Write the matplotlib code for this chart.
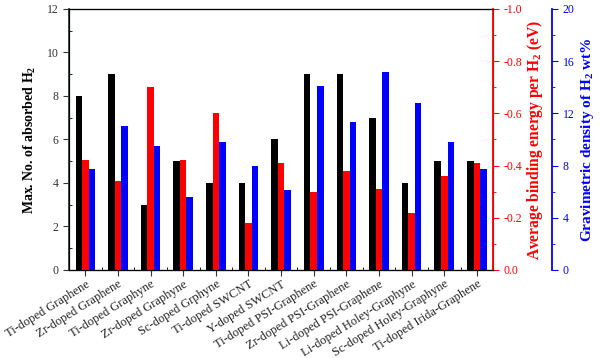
import matplotlib
matplotlib.use("Agg")
import matplotlib.pyplot as plt
import numpy as np
from matplotlib.ticker import MultipleLocator

plt.rcParams["font.family"] = ["Liberation Serif", "DejaVu Serif"]
plt.rcParams["mathtext.fontset"] = "custom"
plt.rcParams["mathtext.rm"] = "Liberation Serif"
plt.rcParams["mathtext.bf"] = "Liberation Serif:bold"

systems = [
    "Ti-doped Graphene", "Zr-doped Graphene", "Ti-doped Graphyne",
    "Zr-doped Graphyne", "Sc-doped Grphyne", "Ti-doped SWCNT",
    "Y-doped SWCNT", "Ti-doped PSI-Graphene", "Zr-doped PSI-Graphene",
    "Li-doped PSI-Graphene", "Li-doped Holey-Graphyne",
    "Sc-doped Holey-Graphyne", "Ti-doped Irida-Graphene",
]
n_h2 = [8, 9, 3, 5, 4, 4, 6, 9, 9, 7, 4, 5, 5]
binding_ev = [-0.42, -0.34, -0.70, -0.42, -0.60, -0.18, -0.41,
              -0.30, -0.38, -0.31, -0.22, -0.36, -0.41]
wt_pct = [7.7, 11.0, 9.5, 5.6, 9.8, 8.0, 6.1,
          14.1, 11.3, 15.2, 12.8, 9.8, 7.7]

x = np.arange(len(systems))
w = 0.2

fig = plt.figure(figsize=(6, 3.58), dpi=100)
ax = fig.add_axes([0.115, 0.246, 0.707, 0.729])
ax2 = ax.twinx()
ax3 = ax.twinx()

ax.bar(x - w, n_h2, w, color="black")
ax2.bar(x, binding_ev, w, color="#ff0000")
ax3.bar(x + w, wt_pct, w, color="#0000ff")

ax.set_xlim(-0.5, len(systems) - 0.5)
ax.set_ylim(0, 12)
ax.yaxis.set_major_locator(MultipleLocator(2))
ax.yaxis.set_minor_locator(MultipleLocator(1))
ax.set_xticks(x)
ax.set_xticks(x[:-1] + 0.5, minor=True)
ax.set_xticklabels(systems, rotation=32, ha="right", rotation_mode="anchor",
                   fontsize=9)
ax.tick_params(axis="both", which="major", direction="out", length=4,
               colors="#333333")
ax.tick_params(axis="x", which="major", pad=2, labelcolor="#222222")
ax.tick_params(axis="y", which="major", labelsize=8.5)
ax.tick_params(axis="both", which="minor", direction="in", length=2)
ax.set_ylabel("Max. No. of absorbed H$_\\mathbf{2}$", fontsize=10,
              fontweight="bold", labelpad=6)
ax.spines["left"].set_color("#2e442e")
ax.spines["left"].set_linewidth(1.3)

ax2.set_ylim(0, -1.0)
ax2.yaxis.set_major_locator(MultipleLocator(0.2))
ax2.yaxis.set_minor_locator(MultipleLocator(0.1))
ax2.yaxis.set_major_formatter(lambda v, p: f"{v:.1f}")
ax2.tick_params(axis="y", which="major", direction="out", length=4,
                colors="red", labelsize=8.5)
ax2.tick_params(axis="y", which="minor", direction="out", length=2,
                colors="red")
ax2.spines["right"].set_color("red")
ax2.spines["right"].set_linewidth(1.3)
ax2.set_ylabel("Average binding energy per H$_\\mathbf{2}$ (eV)", color="red",
               fontsize=11.2, fontweight="bold", labelpad=2)

ax3.spines["right"].set_position(("axes", 1.139))
ax3.set_ylim(0, 20)
ax3.yaxis.set_major_locator(MultipleLocator(4))
ax3.yaxis.set_minor_locator(MultipleLocator(2))
ax3.tick_params(axis="y", which="major", direction="out", length=4,
                colors="blue", labelsize=8.5)
ax3.tick_params(axis="y", which="minor", direction="out", length=2,
                colors="blue")
ax3.spines["right"].set_color("blue")
ax3.spines["right"].set_linewidth(1.3)
ax3.set_ylabel("Gravimetric density of H$_\\mathbf{2}$ wt%", color="blue",
               fontsize=11, fontweight="bold", labelpad=3)

fig.savefig("out.png", dpi=100)
